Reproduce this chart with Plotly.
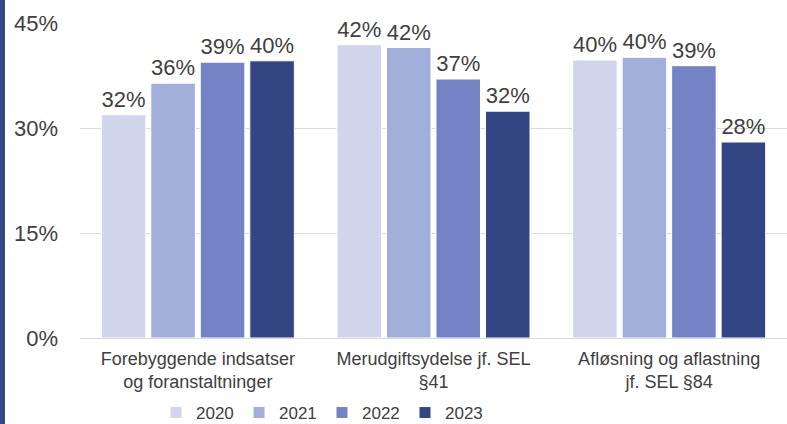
import plotly.graph_objects as go

# data
categories = ["Forebyggende indsatser<br>og foranstaltninger",
              "Merudgiftsydelse jf. SEL<br>§41",
              "Afløsning og aflastning<br>jf. SEL §84"]
years = ["2020", "2021", "2022", "2023"]
v2020 = [0.319, 0.419, 0.397]
v2021 = [0.364, 0.415, 0.401]
v2022 = [0.394, 0.370, 0.389]
v2023 = [0.396, 0.324, 0.280]
colors = ["#D0D5EB", "#A2AEDA", "#7483C6", "#344585"]

W, H = 787, 424
ml, mr, mt, mb = 80, 0, 23, 86
pw, ph = W - ml - mr, H - mt - mb

fig = go.Figure()
for name, vals, col in zip(years, [v2020, v2021, v2022, v2023], colors):
    fig.add_trace(go.Bar(
        x=categories, y=vals, name=name,
        marker=dict(color=col, line=dict(color="white", width=1)),
        texttemplate="%{y:.0%}", textposition="outside",
        textfont=dict(size=22, color="#404040"),
        constraintext="none", cliponaxis=False))

fig.update_layout(
    width=W, height=H,
    margin=dict(l=ml, r=mr, t=mt, b=mb, autoexpand=False),
    paper_bgcolor="white", plot_bgcolor="white",
    font=dict(family="Liberation Sans, Arial, sans-serif", color="#404040"),
    barmode="group", bargap=0.16, bargroupgap=0.1,
    showlegend=True,
    legend=dict(orientation="h", x=(322 - ml) / pw, xanchor="center",
                y=-75 / ph, yanchor="middle",
                font=dict(size=17), itemwidth=30, entrywidth=38,
                traceorder="normal"),
)
fig.update_yaxes(range=[0, 0.45], dtick=0.15, tickformat=".0%", automargin=False,
                 showgrid=True, gridcolor="#D9D9D9", gridwidth=1,
                 zeroline=True, zerolinecolor="#D9D9D9", zerolinewidth=1,
                 tickfont=dict(size=22, color="#404040"), ticklabelstandoff=21)
fig.update_xaxes(tickfont=dict(size=18, color="#404040"),
                 showline=False, automargin=False, ticklabelstandoff=8)

# dark band on left edge
fig.add_shape(type="rect", xref="paper", yref="paper",
              x0=(0 - ml) / pw, x1=(5 - ml) / pw,
              y0=-mb / ph, y1=1 + mt / ph,
              fillcolor="#354785", line=dict(width=0), layer="above")

fig.write_html("out.html", config={"displayModeBar": False},
               post_script="document.body.style.margin='0';")
